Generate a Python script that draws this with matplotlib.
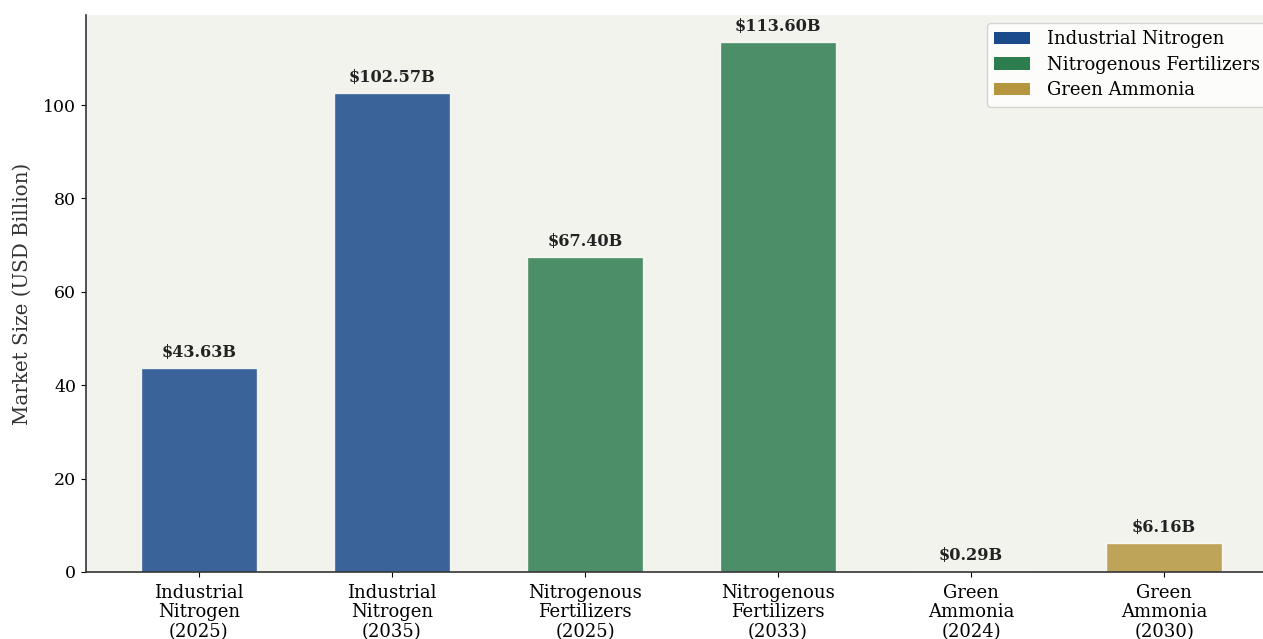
import matplotlib
matplotlib.use("Agg")
import matplotlib.pyplot as plt
from matplotlib.patches import Patch

plt.rcParams["font.family"] = "DejaVu Serif"

categories = [
    "Industrial\nNitrogen\n(2025)",
    "Industrial\nNitrogen\n(2035)",
    "Nitrogenous\nFertilizers\n(2025)",
    "Nitrogenous\nFertilizers\n(2033)",
    "Green\nAmmonia\n(2024)",
    "Green\nAmmonia\n(2030)",
]
values = [43.63, 102.57, 67.40, 113.60, 0.29, 6.16]
groups = ["Industrial Nitrogen", "Industrial Nitrogen",
          "Nitrogenous Fertilizers", "Nitrogenous Fertilizers",
          "Green Ammonia", "Green Ammonia"]
group_names = ["Industrial Nitrogen", "Nitrogenous Fertilizers", "Green Ammonia"]
group_colors = {"Industrial Nitrogen": "#1a4a8a",
                "Nitrogenous Fertilizers": "#2e7d4f",
                "Green Ammonia": "#b5963e"}

fig = plt.figure(figsize=(12.63, 6.39), dpi=100)
ax = fig.add_axes([86 / 1263, 67 / 639, 1191 / 1263, 557 / 639])
ax.set_facecolor("#f3f3ee")

x = list(range(len(values)))
bars = ax.bar(x, values, width=0.6, color=[group_colors[g] for g in groups],
              alpha=0.85, edgecolor="white", linewidth=1)

for xi, v in zip(x, values):
    ax.annotate(f"${v:.2f}B", (xi, v), xytext=(0, 5), textcoords="offset points",
                ha="center", va="bottom", fontsize=11.6, fontweight="bold",
                color="#222222")

ax.set_xticks(x)
ax.set_xticklabels(categories, fontsize=13, linespacing=1.1)
ax.tick_params(axis="x", pad=5)
ax.tick_params(axis="y", labelsize=12.5)
ax.set_xlim(-0.585, 5.585)
ax.set_ylim(0, max(values) * 1.05)
ax.set_ylabel("Market Size (USD Billion)", fontsize=14.3, color="#333333", labelpad=8)

for s in ["top", "right"]:
    ax.spines[s].set_visible(False)
for s in ["left", "bottom"]:
    ax.spines[s].set_color("#333333")
    ax.spines[s].set_linewidth(1.2)

handles = [Patch(facecolor=group_colors[g], label=g) for g in group_names]
ax.legend(handles=handles, loc="upper left", fontsize=13, frameon=True,
          facecolor="white", edgecolor="#cccccc", borderaxespad=0,
          labelspacing=0.42, borderpad=0.4, handletextpad=0.9,
          bbox_to_anchor=(901 / 1191, 1 - 8 / 557))

fig.savefig("out.png", dpi=100)
